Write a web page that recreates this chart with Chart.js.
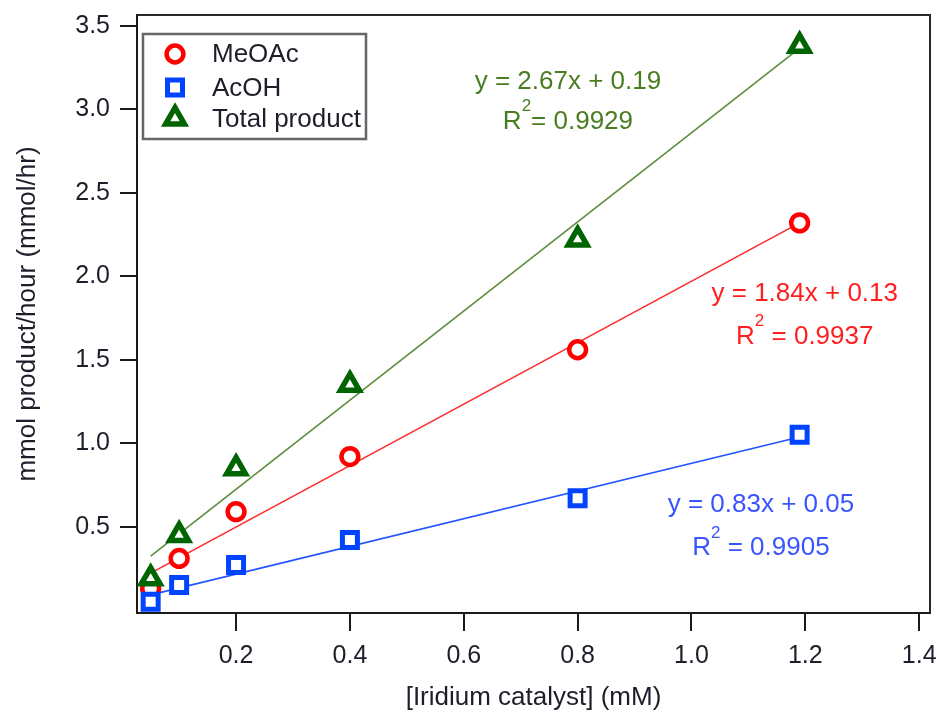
<!DOCTYPE html>
<html>
<head>
<meta charset="utf-8">
<script src="https://cdn.jsdelivr.net/npm/chart.js@4/dist/chart.umd.min.js"></script>
<style>
  html, body { margin: 0; padding: 0; background: #fff; overflow: hidden; }
  #wrap { width: 940px; height: 713px; position: relative; }
  #rateChart { display: block; }
</style>
</head>
<body>
<div id="wrap"><canvas id="rateChart"></canvas></div>
<script>
// Catalyst concentration (mM)
const catalystConc = [0.05, 0.1, 0.2, 0.4, 0.8, 1.19];

// Product formation rates (mmol/hr)
const meoacRate = [0.13, 0.31, 0.59, 0.92, 1.56, 2.32];
const acohRate = [0.05, 0.15, 0.27, 0.42, 0.67, 1.05];
const totalRate = [0.19, 0.45, 0.85, 1.35, 2.22, 3.38];

// Linear fits: MeOAc, AcOH, Total product
const fitSlopes = [1.84, 0.83, 2.67];
const fitIntercepts = [0.13, 0.05, 0.19];
const fitR2 = ['0.9937', '0.9905', '0.9929'];
const fitRange = [0.05, 1.19];

const seriesNames = ['MeOAc', 'AcOH', 'Total product'];
const xTicks = [0.2, 0.4, 0.6, 0.8, 1.0, 1.2, 1.4];
const yTicks = [0.5, 1.0, 1.5, 2.0, 2.5, 3.0, 3.5];

const markerColors = ['#ff0000', '#0044ff', '#006400'];
const lineColors = ['#ff2a2a', '#2255ff', '#5c8c3c'];
const labelColors = ['#ff1f1f', '#3a55ff', '#4a7d22'];
const markerStyles = ['circle', 'rect', 'triangle'];
const markerRadius = [8.4, 10.6, 10.8];
const markerStroke = [4.5, 5, 5.5];

const FONT = "'Liberation Sans', Arial, sans-serif";
const TEXT = '#1e1e2a';

function toPoints(xs, ys) {
    return xs.map((x, i) => ({ x: x, y: ys[i] }));
}

function fitPoints(i) {
    return fitRange.map(x => ({ x: x, y: fitSlopes[i] * x + fitIntercepts[i] }));
}

const seriesValues = [meoacRate, acohRate, totalRate];

// marker datasets (on top) followed by the fit lines
const datasets = [];
seriesValues.forEach((vals, i) => {
    datasets.push({
        label: seriesNames[i],
        data: toPoints(catalystConc, vals),
        showLine: false,
        pointStyle: markerStyles[i],
        pointRadius: markerRadius[i],
        pointHoverRadius: markerRadius[i],
        pointBorderWidth: markerStroke[i],
        pointBorderColor: markerColors[i],
        pointBackgroundColor: '#ffffff',
        order: [2, 1, 0][i]
    });
});
seriesValues.forEach((vals, i) => {
    datasets.push({
        label: seriesNames[i] + ' fit',
        data: fitPoints(i),
        showLine: true,
        borderColor: lineColors[i],
        borderWidth: 1.6,
        pointRadius: 0,
        order: 5
    });
});

// label anchors in data units (centre x, y of equation line, y of R² line)
const labelAnchors = [
    { x: 1.199, y1: 1.892, y2: 1.640 },
    { x: 1.122, y1: 0.630, y2: 0.372 },
    { x: 0.783, y1: 3.165, y2: 2.928 }
];

const fitLabels = {
    id: 'fitLabels',
    afterDatasetsDraw(chart) {
        const { ctx, scales: { x, y } } = chart;
        ctx.save();
        ctx.textBaseline = 'middle';
        labelAnchors.forEach((a, i) => {
            const cx = x.getPixelForValue(a.x);
            const eq = 'y = ' + fitSlopes[i].toFixed(2) + 'x + ' + fitIntercepts[i].toFixed(2);
            ctx.fillStyle = labelColors[i];
            ctx.font = '26px ' + FONT;
            ctx.textAlign = 'center';
            ctx.fillText(eq, cx, y.getPixelForValue(a.y1));

            // R² line with a raised 2
            const cy = y.getPixelForValue(a.y2);
            const rest = (i === 2 ? '= ' : ' = ') + fitR2[i];
            ctx.textAlign = 'left';
            const wR = ctx.measureText('R').width;
            const wRest = ctx.measureText(rest).width;
            ctx.font = '17px ' + FONT;
            const wSup = ctx.measureText('2').width;
            const total = wR + wSup + wRest;
            let px = cx - total / 2;
            ctx.font = '26px ' + FONT;
            ctx.fillText('R', px, cy);
            px += wR;
            ctx.font = '17px ' + FONT;
            ctx.fillText('2', px, cy - 15);
            px += wSup;
            ctx.font = '26px ' + FONT;
            ctx.fillText(rest, px, cy);
        });
        ctx.restore();
    }
};

// x tick labels are drawn here so the last one can hang past the plot edge
const xTickLabels = {
    id: 'xTickLabels',
    afterDraw(chart) {
        const { ctx, scales: { x } } = chart;
        ctx.save();
        ctx.font = '25px ' + FONT;
        ctx.fillStyle = TEXT;
        ctx.textAlign = 'center';
        ctx.textBaseline = 'middle';
        xTicks.forEach(v => {
            ctx.fillText(v.toFixed(1), x.getPixelForValue(v), x.top + 43);
        });
        ctx.restore();
    }
};

// frame on top/right and the boxed legend in the upper left
const frameAndLegend = {
    id: 'frameAndLegend',
    afterDraw(chart) {
        const { ctx, chartArea: a } = chart;
        ctx.save();
        ctx.strokeStyle = '#2a2a2a';
        ctx.lineWidth = 2;
        ctx.beginPath();
        ctx.moveTo(a.left, a.top);
        ctx.lineTo(a.right, a.top);
        ctx.lineTo(a.right, a.bottom);
        ctx.stroke();

        const bx = 143, by = 34, bw = 223, bh = 105;
        ctx.strokeStyle = '#666666';
        ctx.lineWidth = 2.5;
        ctx.strokeRect(bx, by, bw, bh);

        const rows = [54, 87.5, 118.5];
        ctx.font = '26px ' + FONT;
        ctx.textBaseline = 'middle';
        ctx.textAlign = 'left';
        seriesNames.forEach((name, i) => {
            ctx.strokeStyle = markerColors[i];
            ctx.fillStyle = '#ffffff';
            ctx.lineWidth = markerStroke[i];
            Chart.helpers.drawPoint(ctx, {
                pointStyle: markerStyles[i],
                radius: markerRadius[i],
                rotation: 0,
                borderWidth: markerStroke[i]
            }, 175, rows[i]);
            ctx.fillStyle = TEXT;
            ctx.fillText(name, 212, rows[i] + 1);
        });
        ctx.restore();
    }
};

function fixTicks(values) {
    return function (scale) {
        scale.ticks = values.map(v => ({ value: v }));
    };
}

function noPadding(scale) {
    scale.paddingLeft = 0;
    scale.paddingRight = 0;
    scale.paddingTop = 0;
    scale.paddingBottom = 0;
}

document.addEventListener('DOMContentLoaded', function () {
    const ctx = document.getElementById('rateChart').getContext('2d');
    new Chart(ctx, {
        type: 'scatter',
        data: { datasets: datasets },
        options: {
            responsive: true,
            maintainAspectRatio: false,
            animation: false,
            layout: {
                autoPadding: false,
                padding: { left: 0, right: 10, top: 15, bottom: 0 }
            },
            plugins: {
                legend: { display: false },
                tooltip: { enabled: false }
            },
            scales: {
                x: {
                    type: 'linear',
                    min: 0.026,
                    max: 1.419,
                    afterBuildTicks: fixTicks(xTicks),
                    afterFit: function (scale) { noPadding(scale); scale.height = 100; },
                    border: { display: true, color: '#1a1a1a', width: 2 },
                    grid: { drawOnChartArea: false, drawTicks: true, tickLength: 18, color: '#1a1a1a', lineWidth: 2 },
                    ticks: { display: false },
                    title: {
                        display: true,
                        text: '[Iridium catalyst] (mM)',
                        color: TEXT,
                        font: { family: FONT, size: 26 },
                        padding: { top: 0, bottom: 0 }
                    }
                },
                y: {
                    type: 'linear',
                    min: -0.017,
                    max: 3.565,
                    afterBuildTicks: fixTicks(yTicks),
                    afterFit: function (scale) { noPadding(scale); scale.width = 137; },
                    border: { display: true, color: '#1a1a1a', width: 2 },
                    grid: { drawOnChartArea: false, drawTicks: true, tickLength: 17, color: '#1a1a1a', lineWidth: 2 },
                    ticks: {
                        padding: 10,
                        color: TEXT,
                        font: { family: FONT, size: 25 },
                        callback: v => v.toFixed(1)
                    },
                    title: {
                        display: true,
                        text: 'mmol product/hour (mmol/hr)',
                        color: TEXT,
                        font: { family: FONT, size: 26 },
                        padding: { top: 12, bottom: 0 }
                    }
                }
            }
        },
        plugins: [fitLabels, xTickLabels, frameAndLegend]
    });
});
</script>
</body>
</html>
